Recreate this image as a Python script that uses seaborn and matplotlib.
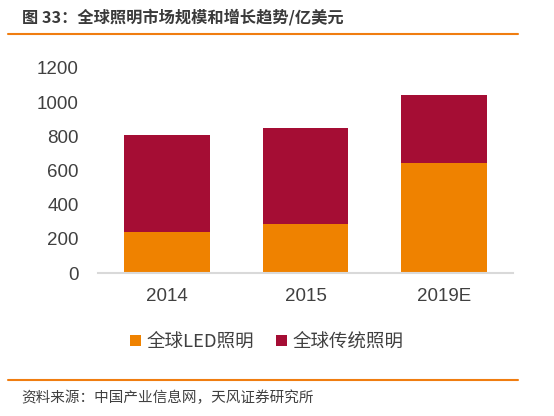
import matplotlib
matplotlib.use("Agg")
import matplotlib.pyplot as plt
import seaborn as sns
import pandas as pd
from matplotlib.patches import Patch
from matplotlib.lines import Line2D

years = ["2014", "2015", "2019E"]
led = [240, 285, 645]
traditional = [565, 565, 395]
series_names = ["全球LED照明", "全球传统照明"]
yticks = [0, 200, 400, 600, 800, 1000, 1200]

sns.set_theme(style="white")
plt.rcParams['font.family'] = ['Noto Sans CJK SC', 'DejaVu Sans']

orange = "#EF8200"
crimson = "#A50D34"
txt = "#404040"

total = [a + b for a, b in zip(led, traditional)]
df = pd.DataFrame({"year": years, "led": led, "total": total})

fig = plt.figure(figsize=(5.54, 4.16), dpi=100)
ax = fig.add_axes([98/554, 1-273/416, (513-98)/554, (273-68)/416])

sns.barplot(data=df, x="year", y="total", color=crimson, width=0.62,
            saturation=1, ax=ax, edgecolor="none")
sns.barplot(data=df, x="year", y="led", color=orange, width=0.62,
            saturation=1, ax=ax, edgecolor="none")

ax.set_ylim(0, 1200)
ax.set_xlim(-0.5, 2.5)
ax.set_yticks(yticks)
ax.set_yticklabels([str(v) for v in yticks])
ax.set_xlabel("")
ax.set_ylabel("")
for s in ["top", "right", "left"]:
    ax.spines[s].set_visible(False)
ax.spines["bottom"].set_color("#D9D9D9")
ax.spines["bottom"].set_linewidth(1.5)
ax.tick_params(axis="y", length=0, pad=14, labelsize=13.5, labelcolor=txt)
ax.tick_params(axis="x", length=0, pad=11, labelsize=13.5, labelcolor=txt)
for lab in ax.get_xticklabels() + ax.get_yticklabels():
    lab.set_fontfamily(['Liberation Sans', 'DejaVu Sans'])

handles = [Patch(facecolor=orange, edgecolor="none"),
           Patch(facecolor=crimson, edgecolor="none")]
leg = fig.legend(handles, series_names, loc="center", bbox_to_anchor=(267/554, 1-342/416),
                 ncol=2, frameon=False, fontsize=13.3, handlelength=0.6, handleheight=0.6,
                 handletextpad=0.3, columnspacing=1.2)
for t in leg.get_texts():
    t.set_color(txt)

fig.text(22/554, 1-17/416, "图 33：全球照明市场规模和增长趋势/亿美元", fontsize=11.7,
         fontweight="bold", color="#3A3A3A", va="center", ha="left")
fig.add_artist(Line2D([8/554, 518/554], [1-34/416, 1-34/416], color="#F07D10", lw=1.5))
fig.add_artist(Line2D([8/554, 518/554], [1-380/416, 1-380/416], color="#F07D10", lw=1.5))
fig.text(21/554, 1-398/416, "资料来源：中国产业信息网，天风证券研究所", fontsize=10.5,
         color=txt, va="center", ha="left")

fig.savefig("out.png", dpi=100)
